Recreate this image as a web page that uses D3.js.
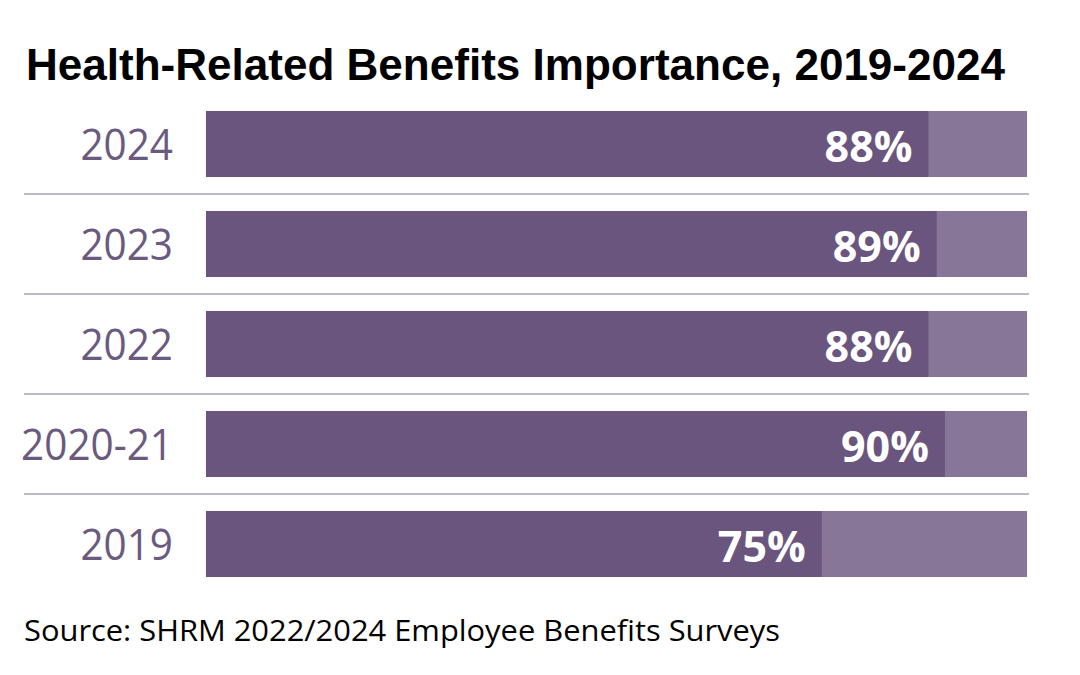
<!DOCTYPE html>
<html>
<head>
<meta charset="utf-8">
<script src="https://cdn.jsdelivr.net/npm/d3@7"></script>
<style>
  body { margin: 0; background: #fff; }
  svg { display: block; }
</style>
</head>
<body>
<script>
// Data
var years = ["2024", "2023", "2022", "2020-21", "2019"];
var values = [88, 89, 88, 90, 75];
var maxValue = 100;

var width = 1080, height = 675;

var svg = d3.select("body")
    .append("svg")
        .attr("width", width)
        .attr("height", height);

// Scales
var xScale = d3.scaleLinear().domain([0, maxValue]).range([206, 1027]);
var yScale = d3.scaleBand().domain(years).range([77, 611]).padding(0.34);

var data = years.map(function (y, i) { return {year: y, value: values[i]}; });

// Title
svg.append("text")
    .attr("x", 26)
    .attr("y", 80)
    .attr("textLength", 979)
    .attr("lengthAdjust", "spacingAndGlyphs")
    .style("font-family", "'Liberation Sans', Arial, sans-serif")
    .style("font-weight", "bold")
    .style("font-size", "45px")
    .style("fill", "#000")
    .text("Health-Related Benefits Importance, 2019-2024");

// Separators between rows
var step = yScale.step();
svg.selectAll(".sep")
    .data(years.slice(0, years.length - 1))
    .enter().append("line")
    .attr("class", "sep")
    .attr("x1", 24)
    .attr("x2", 1029)
    .attr("y1", function (d) { return yScale(d) + yScale.bandwidth() + (step - yScale.bandwidth()) / 2; })
    .attr("y2", function (d) { return yScale(d) + yScale.bandwidth() + (step - yScale.bandwidth()) / 2; })
    .style("stroke", "#aaa1b6")
    .style("stroke-width", 1.5);

// Background (100%) bars
svg.selectAll(".bg")
    .data(data)
    .enter().append("rect")
    .attr("class", "bg")
    .attr("x", xScale(0))
    .attr("y", function (d) { return yScale(d.year); })
    .attr("width", xScale(maxValue) - xScale(0))
    .attr("height", yScale.bandwidth())
    .style("fill", "#887698");

// Value bars
svg.selectAll(".bar")
    .data(data)
    .enter().append("rect")
    .attr("class", "bar")
    .attr("x", xScale(0))
    .attr("y", function (d) { return yScale(d.year); })
    .attr("width", function (d) { return xScale(d.value) - xScale(0); })
    .attr("height", yScale.bandwidth())
    .style("fill", "#6a557f");

// Value labels
svg.selectAll(".lbl")
    .data(data)
    .enter().append("text")
    .attr("class", "lbl")
    .attr("x", function (d) { return xScale(d.value) - 16; })
    .attr("y", function (d) { return yScale(d.year) + yScale.bandwidth() / 2 + 18; })
    .attr("text-anchor", "end")
    .style("font-family", "'Open Sans', sans-serif")
    .style("font-weight", "bold")
    .style("font-size", "43px")
    .style("fill", "#fff")
    .text(function (d) { return d.value + "%"; });

// Year axis
var yAxis = svg.append("g")
    .attr("class", "y axis")
    .attr("transform", "translate(" + xScale(0) + ",0)")
    .call(d3.axisLeft(yScale).tickSize(0).tickPadding(33));

yAxis.select(".domain").remove();
yAxis.selectAll("text")
    .attr("dy", "0.36em")
    .style("font-family", "'Open Sans', sans-serif")
    .style("font-size", "44px")
    .style("fill", "#6b5a80")
    .each(function () {
        // narrow the glyphs a little, the original face is condensed
        var w = this.getComputedTextLength();
        d3.select(this)
            .attr("textLength", w * 0.92)
            .attr("lengthAdjust", "spacingAndGlyphs");
    });

// Source
svg.append("text")
    .attr("x", 24)
    .attr("y", 641)
    .attr("textLength", 756)
    .attr("lengthAdjust", "spacingAndGlyphs")
    .style("font-family", "'Open Sans', sans-serif")
    .style("font-size", "29px")
    .style("fill", "#000")
    .text("Source: SHRM 2022/2024 Employee Benefits Surveys");
</script>
</body>
</html>
